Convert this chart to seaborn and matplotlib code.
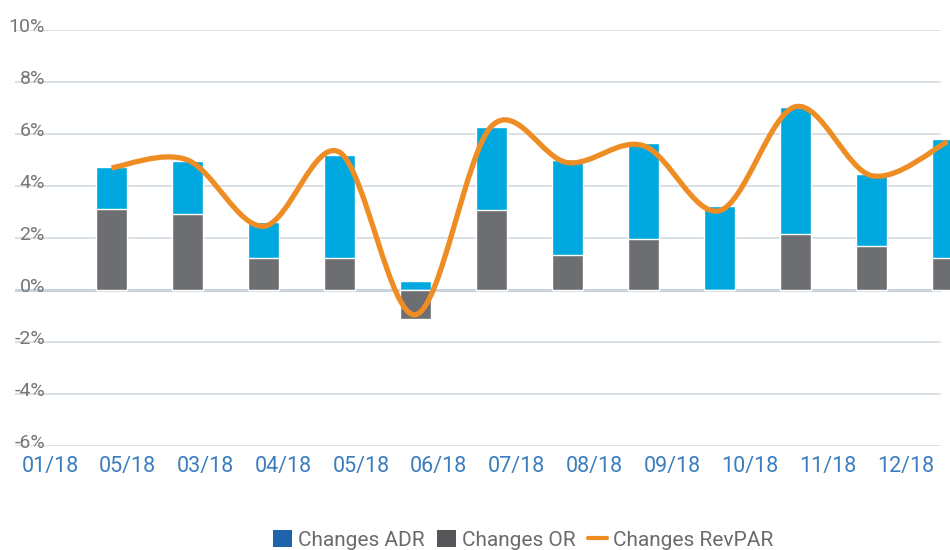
import matplotlib
matplotlib.use("Agg")
import matplotlib.pyplot as plt
import numpy as np
import pandas as pd
import seaborn as sb
from matplotlib.path import Path
from matplotlib.patches import PathPatch, Patch
from matplotlib.lines import Line2D
from matplotlib.transforms import blended_transform_factory

months = ['01/18', '05/18', '03/18', '04/18', '05/18', '06/18',
          '07/18', '08/18', '09/18', '10/18', '11/18', '12/18']
changes_or = [3.1, 2.93, 1.24, 1.24, -1.1, 3.08, 1.35, 1.96, 0.0, 2.15, 1.69, 1.24]
changes_adr = [1.64, 2.03, 1.38, 3.95, 0.35, 3.19, 3.65, 3.69, 3.23, 4.89, 2.77, 4.57]
changes_revpar = [4.7, 5.0, 2.45, 5.3, -0.95, 6.3, 4.9, 5.55, 3.05, 7.05, 4.4, 5.7]
y_ticks = [-6, -4, -2, 0, 2, 4, 6, 8, 10]

blue = '#00A8E0'
grey = '#6D6E71'
orange = '#EE8D24'

sb.set_style('white')
plt.rcParams['font.family'] = ['Roboto', 'DejaVu Sans']

df = pd.DataFrame({'month': range(len(months)), 'OR': changes_or, 'ADR': changes_adr,
                   'RevPAR': changes_revpar})
df['top'] = df['OR'].clip(lower=0) + df['ADR']

fig = plt.figure(figsize=(9.5, 5.5), dpi=100)
ax = fig.add_axes([15 / 950, 1 - 446 / 550, 935 / 950, 416 / 550])

# grid
for t in y_ticks:
    ax.axhline(t, xmin=0, xmax=925 / 935, color='#D3DBE2' if t else '#C9D3DC',
               lw=1.2 if t else 2.2, zorder=0)

# stacked bars: blue (top) drawn first, grey on top
sb.barplot(data=df, x='month', y='top', color=blue, width=0.41, saturation=1, ax=ax, zorder=2)
sb.barplot(data=df, x='month', y='OR', color=grey, width=0.41, saturation=1, ax=ax, zorder=3)

# smoothed RevPAR line (Catmull-Rom as bezier segments)
xs = df['month'].to_numpy(dtype=float)
ys = df['RevPAR'].to_numpy(dtype=float)
pts = np.column_stack([xs, ys])
verts = [pts[0]]
codes = [Path.MOVETO]
for i in range(len(pts) - 1):
    p0 = pts[i - 1] if i > 0 else pts[i]
    p3 = pts[i + 2] if i + 2 < len(pts) else pts[i + 1]
    c1 = pts[i] + (pts[i + 1] - p0) / 6
    c2 = pts[i + 1] - (p3 - pts[i]) / 6
    verts += [c1, c2, pts[i + 1]]
    codes += [Path.CURVE4] * 3
ax.add_patch(PathPatch(Path(verts, codes), fill=False, edgecolor=orange, lw=3.8,
                       capstyle='butt', joinstyle='round', zorder=4))

ax.set_xlim((15 - 111.5) / 76, (950 - 111.5) / 76)
ax.set_ylim(-6, 10)
sb.despine(ax=ax, left=True, bottom=True)

tick_pos = [((50 + i * 77.77) - 111.5) / 76 for i in range(len(months))]
ax.set_xticks(tick_pos)
ax.set_xticklabels(months, color='#3B7DBF', fontsize=15.5)
ax.tick_params(axis='x', length=0, pad=7)
ax.set_yticks([])
ax.set_xlabel('')
ax.set_ylabel('')

trans = blended_transform_factory(ax.transAxes, ax.transData)
for t in y_ticks:
    ax.text(30 / 935, t - 0.08, f'{t}%', transform=trans, ha='right', va='baseline',
            color='#767676', fontsize=14, zorder=1)

handles = [Patch(facecolor='#1F63AD', edgecolor='none'),
           Patch(facecolor='#55565A', edgecolor='none'),
           Line2D([0], [0], color=orange, lw=3)]
fig.legend(handles, ['Changes ADR', 'Changes OR', 'Changes RevPAR'], loc='center',
           bbox_to_anchor=(523 / 950, 1 - 540 / 550), ncol=3, frameon=False,
           handlelength=0.9, handleheight=0.9, handletextpad=0.3, columnspacing=0.6,
           prop={'size': 15}, labelcolor='#6A6A6A')

fig.savefig('out.png', dpi=100)
